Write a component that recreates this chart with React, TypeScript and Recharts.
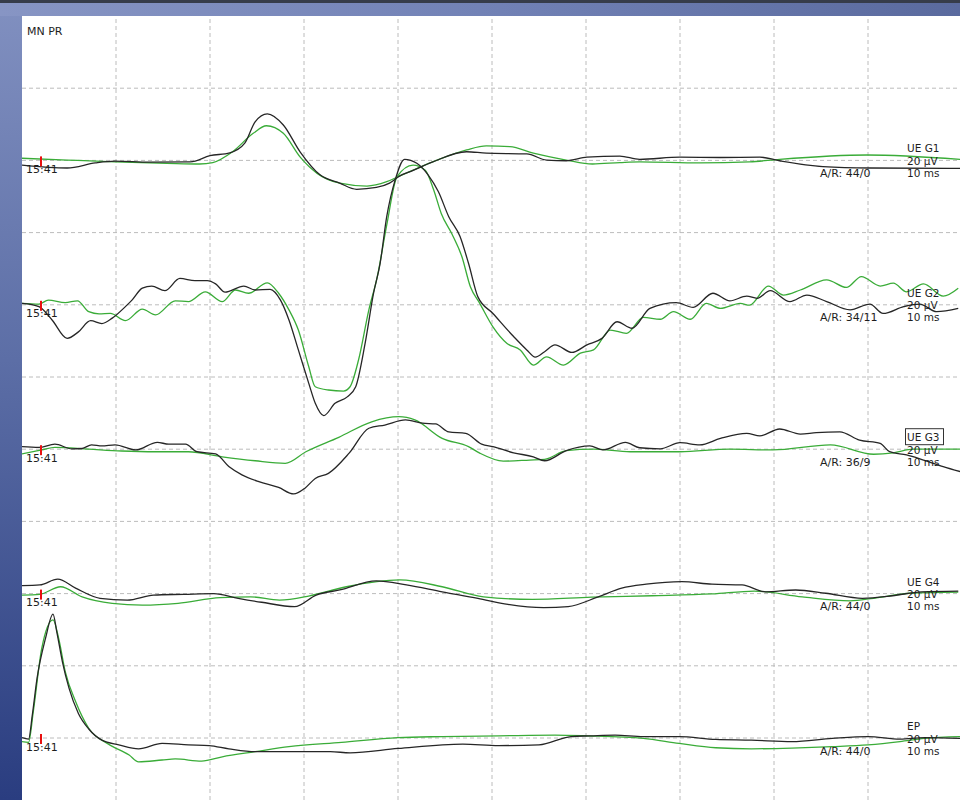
import { LineChart, Line, XAxis, YAxis, ReferenceLine } from 'recharts'

// sweep: 10 ms / division, 20 µV / division
const sweepMs = [0, 100]
const gridTimes = [10, 20, 30, 40, 50, 60, 70, 80, 90]
const gridLevels = [-20, -40, -60, -80, -100, -120, -140, -160, -180, -200]

const channelNames = ['UE G1', 'UE G2', 'UE G3', 'UE G4', 'EP']
const channelOffsets = [-40, -80, -120, -160, -200]
const rejectCounts = ['44/0', '34/11', '36/9', '44/0', '44/0']
const selectedChannel = 'UE G3'
const sweepTime = '15:41'
const gainLabel = '20 µV'
const timebaseLabel = '10 ms'

// [ms, µV] — upward deflection positive
const g1Black = [
  [0, -1.3], [4.8, -2.1], [7.8, -0.7], [9.9, -0.2], [13.6, -0.5], [17.9, -0.4], [20.0, 1.3],
  [22.1, 2.1], [23.7, 4.8], [24.8, 10.7], [26.1, 12.9], [27.8, 9.8], [29.6, 2.3], [31.7, -4.0],
  [33.8, -6.3], [35.6, -8.0], [37.7, -7.5], [39.1, -6.3], [40.2, -4.3], [41.3, -3.1], [43.7, -0.4],
  [47.3, 2.4], [49.4, 2.0], [53.7, 1.8], [55.8, 0.1], [57.9, -0.1], [60.1, 0.9], [63.6, 1.2],
  [65.7, 0.3], [70.0, 0.9], [74.3, 0.8], [78.5, 0.9], [80.6, -0.1], [85.2, -1.7], [90.2, -2.1],
  [99.8, -2.2],
]
const g1Green = [
  [0, 0.6], [4.8, 0.1], [9.9, -0.4], [15.4, -0.8], [18.9, -1.0], [20.3, -0.6], [22.4, 2.4],
  [24.6, 7.5], [26.0, 9.6], [27.8, 7.5], [29.6, 0.9], [31.4, -3.6], [33.8, -6.3], [36.7, -7.1],
  [38.8, -5.9], [40.2, -4.3], [43.7, -0.4], [47.3, 2.9], [49.4, 4.0], [51.9, 3.8], [54.4, 2.0],
  [57.9, 0.1], [60.7, -1.0], [63.6, -0.6], [65.7, -0.4], [72.1, -0.7], [77.4, -0.4], [80.6, 0.3],
  [89.9, 1.5], [99.8, 0.3],
]
const g2Black = [
  [0, 0.4], [1.8, -0.5], [3.2, -4.2], [4.8, -9.3], [6.0, -7.5], [7.3, -4.4], [8.5, -5.2],
  [9.6, -3.7], [11.0, -0.5], [11.7, 1.3], [12.8, 4.6], [13.8, 5.2], [15.2, 3.9], [16.8, 7.3],
  [18.4, 6.7], [19.7, 6.7], [20.6, 5.8], [21.6, 3.5], [23.6, 5.2], [24.8, 4.1], [26.4, 4.3],
  [27.5, 1.3], [28.4, -4.2], [29.4, -12.5], [30.5, -21.7], [31.2, -27.3], [32.1, -30.7],
  [33.3, -27.3], [34.6, -25.5], [35.5, -22.7], [36.5, -10.7], [37.4, 3.2], [38.1, 11.5],
  [38.8, 24.4], [39.7, 34.6], [40.7, 40.3], [42.0, 39.2], [43.2, 36.0], [44.3, 31.3],
  [45.4, 24.4], [46.6, 18.9], [47.5, 11.5], [48.5, 2.2], [50.1, -2.4], [52.3, -8.8],
  [53.7, -12.5], [54.6, -14.5], [55.6, -13.0], [56.7, -11.1], [58.5, -13.2], [60.1, -11.1],
  [61.7, -9.3], [63.3, -4.7], [64.9, -6.5], [66.8, -1.0], [69.6, 0.6], [71.4, -0.7], [73.5, 3.2],
  [75.3, 1.1], [77.1, 2.4], [78.2, 1.8], [79.6, 3.9], [81.7, 0.9], [83.5, 2.7], [85.6, 0.9],
  [88.1, -1.4], [90.2, 0.2], [91.6, -2.4], [93.8, -0.5], [95.5, 0.2], [97.3, -1.9], [99.6, -1.0],
]
const g2Green = [
  [0, 0.4], [1.8, 0.2], [2.8, 1.3], [4.6, 0.6], [5.9, 1.1], [7.1, -1.9], [8.2, -2.5],
  [9.4, -2.4], [11.0, -4.4], [12.8, -1.2], [14.2, -2.8], [16.3, 1.1], [17.7, 0.9], [19.5, 3.6],
  [21.3, 0.9], [22.7, 4.1], [24.1, 3.2], [26.1, 6.1], [27.3, 3.2], [28.4, -1.4], [29.4, -7.0],
  [30.5, -17.1], [31.2, -22.7], [32.6, -23.6], [34.2, -23.9], [34.9, -22.7], [35.8, -15.3],
  [36.9, -1.4], [37.8, 7.8], [38.8, 22.1], [39.9, 35.5], [41.6, 38.7], [42.9, 37.3],
  [43.8, 31.8], [44.6, 25.3], [45.7, 19.8], [46.8, 13.3], [47.7, 5.0], [48.7, 0.4],
  [50.1, -6.1], [51.6, -10.7], [53.0, -12.5], [54.4, -16.7], [55.8, -14.4], [57.6, -16.7],
  [59.4, -13.4], [60.8, -12.5], [62.6, -7.0], [64.3, -7.9], [66.1, -3.5], [67.9, -4.0],
  [69.3, -1.9], [71.1, -4.0], [72.8, 0.4], [74.3, -1.0], [76.4, 0.4], [77.4, -0.1], [79.4, 5.2],
  [81.0, 2.7], [82.8, 4.1], [85.6, 6.9], [87.7, 4.8], [89.3, 7.8], [91.3, 5.2], [92.7, 6.0],
  [94.1, 3.6], [95.9, 5.8], [98.0, 2.4], [99.6, 4.6],
]
const g3Black = [
  [0, 0.7], [1.8, 0.5], [3.5, 1.4], [5.3, 0.1], [6.4, 0.2], [7.4, 1.2], [8.5, 0.9], [9.9, 1.2],
  [12.1, -0.2], [14.4, 1.9], [15.6, 1.4], [17.4, 1.4], [18.6, -0.7], [20.6, -1.3], [22.0, -4.8],
  [23.4, -7.1], [25.2, -9.0], [27.3, -10.6], [28.9, -12.4], [30.1, -10.8], [31.2, -8.1],
  [32.6, -6.7], [34.8, -1.1], [36.9, 5.8], [38.6, 6.7], [40.8, 8.1], [42.6, 7.2], [44.0, 7.0],
  [45.4, 4.8], [47.2, 4.4], [48.9, 1.4], [50.1, 0.7], [52.3, -1.0], [54.4, -2.1], [55.6, -3.2],
  [57.9, -0.4], [60.4, 0.9], [61.8, -0.2], [64.2, 1.9], [65.7, 0.4], [67.9, 0.1], [70.0, 1.8],
  [72.1, 1.2], [74.3, 3.0], [77.1, 4.4], [78.5, 3.7], [80.6, 5.6], [82.8, 4.2], [84.5, 4.6],
  [87.0, 4.8], [89.1, 2.5], [91.3, 1.6], [92.3, -0.7], [94.1, -1.6], [95.9, -3.0], [98.0, -4.8],
  [99.8, -6.2],
]
const g3Green = [
  [0, -1.3], [2.1, -0.2], [3.5, 0.5], [7.1, 0.0], [10.6, -0.5], [14.2, -0.7], [17.7, -0.7],
  [21.3, -2.1], [24.8, -3.2], [28.0, -3.9], [30.2, -0.7], [33.7, 3.3], [37.2, 7.6], [40.1, 9.0],
  [41.8, 8.1], [44.7, 3.0], [47.5, 0.7], [48.7, -1.1], [51.2, -3.3], [54.0, -3.0], [55.6, -2.8],
  [57.9, -0.4], [60.8, 0.0], [64.7, -0.7], [70.0, -0.7], [75.3, 0.0], [79.9, -0.2], [86.0, 1.2],
  [90.6, -1.4], [92.7, -1.0], [94.8, 0.0], [99.8, 0.0],
]
const g4Black = [
  [0, 2.2], [1.9, 2.4], [3.8, 4.0], [5.7, 1.5], [8.3, -1.3], [11.2, -1.8], [14.0, -0.4],
  [17.2, -0.2], [20.4, 0.0], [23.0, -1.3], [25.5, -2.4], [29.0, -3.6], [31.3, -0.4], [33.8, 1.0],
  [37.7, 3.5], [40.9, 2.4], [44.7, 0.5], [48.5, -1.3], [51.7, -3.0], [55.5, -3.9], [58.1, -3.6],
  [61.3, -0.9], [63.8, 1.5], [66.4, 2.6], [70.2, 3.3], [73.4, 2.6], [76.6, 2.4], [79.1, 0.5],
  [82.3, 1.0], [85.5, 0.1], [89.4, -1.3], [92.6, -0.6], [95.7, 0.5], [99.6, 0.7],
]
const g4Green = [
  [0, -0.4], [1.9, -0.2], [4.1, 1.9], [6.4, -0.9], [9.6, -2.7], [12.8, -3.2], [16.6, -2.7],
  [21.1, -1.1], [24.3, -0.9], [27.4, -1.8], [30.6, -0.6], [34.5, 1.9], [40.2, 3.8], [44.7, 1.9],
  [49.1, -0.9], [54.3, -1.6], [60.6, -1.0], [67.0, -0.6], [73.4, -0.1], [77.9, 0.7],
  [83.0, -0.9], [88.1, -2.0], [90.6, -1.3], [94.5, 0.1], [99.6, 0.4],
]
const epBlack = [
  [0, 0.1], [0.7, -0.3], [1.1, 6.4], [1.6, 16.5], [2.5, 27.6], [3.3, 34.3], [3.7, 29.4],
  [4.3, 21.1], [5.0, 13.8], [6.0, 6.8], [7.1, 2.5], [8.5, -0.6], [10.3, -1.9], [12.4, -3.0],
  [14.9, -1.5], [17.7, -1.9], [19.9, -2.1], [22.0, -3.0], [24.8, -3.8], [28.4, -3.8],
  [32.8, -3.8], [34.9, -4.1], [40.0, -2.9], [46.9, -1.7], [50.7, -2.1], [55.0, -1.9],
  [58.4, 0.4], [60.5, 0.6], [63.1, 0.8], [66.1, 0.4], [69.9, 0.4], [73.8, -0.4], [77.6, -0.6],
  [81.9, -1.0], [86.2, -0.1], [90.0, 0.4], [93.4, -0.3], [96.0, 0.1], [99.8, -0.1],
]
const epGreen = [
  [0, -1.0], [0.7, -1.2], [1.2, 7.3], [2.1, 24.8], [3.3, 32.7], [3.9, 27.6], [4.6, 18.4],
  [5.7, 10.1], [7.1, 2.7], [9.2, -1.7], [11.4, -4.7], [12.4, -6.6], [14.9, -6.1], [16.3, -5.8],
  [19.1, -6.4], [21.3, -5.2], [24.8, -3.8], [28.4, -2.4], [34.0, -1.2], [40.0, 0.1], [44.7, 0.4],
  [50.7, 0.6], [56.7, 0.8], [60.1, 0.6], [66.1, -0.1], [69.9, -1.5], [73.8, -2.7], [77.6, -3.0],
  [81.9, -2.8], [86.2, -2.4], [90.0, -1.9], [93.4, -1.0], [96.0, -0.1], [99.8, 0.4],
]

const blackTraces = [g1Black, g2Black, g3Black, g4Black, epBlack]
const greenTraces = [g1Green, g2Green, g3Green, g4Green, epGreen]

const PANEL_LEFT = 22
const PANEL_TOP = 16
const PANEL_W = 940
const PANEL_H = 784
const UV_PER_PX = 20 / 72.2
const Y_MIN = -PANEL_H * UV_PER_PX

const FONT = '"DejaVu Sans", Verdana, sans-serif'
const BLACK = '#262626'
const GREEN = '#3aac38'
const GRID = '#bcbcbc'

function toPoints(trace: number[][], offset: number) {
  return trace.map(([t, v]) => ({ t, v: v + offset }))
}

function levelToPx(level: number) {
  return PANEL_TOP + -level / UV_PER_PX
}

function ChannelLabels() {
  return (
    <svg
      width={960}
      height={800}
      style={{ position: 'absolute', left: 0, top: 0, pointerEvents: 'none' }}
      fontFamily={FONT}
      fontSize={10.5}
      fill="#1e1e1e"
    >
      <text x={27} y={35} fontSize={11}>MN PR</text>
      {channelNames.map((name, i) => {
        const b = levelToPx(channelOffsets[i])
        return (
          <g key={name}>
            <rect x={40} y={b - 4} width={2} height={10} fill="#e81010" />
            <text x={26} y={b + 12.5} fontSize={11}>{sweepTime}</text>
            {name === selectedChannel && (
              <rect x={905.5} y={b - 20.5} width={38} height={16} fill="none" stroke="#333" strokeWidth={1} />
            )}
            <text x={907} y={b - 8}>{name}</text>
            <text x={907} y={b + 4.5}>{gainLabel}</text>
            <text x={907} y={b + 16.5}>{timebaseLabel}</text>
            <text x={820} y={b + 16.5} fontSize={11}>A/R: {rejectCounts[i]}</text>
          </g>
        )
      })}
    </svg>
  )
}

export default function App() {
  return (
    <div
      style={{
        position: 'fixed',
        left: 0,
        top: 0,
        width: 960,
        height: 800,
        overflow: 'hidden',
        background: '#ffffff',
      }}
    >
      <div
        style={{
          position: 'absolute',
          left: 0,
          top: 0,
          width: PANEL_LEFT,
          height: 800,
          background: 'linear-gradient(to bottom, #8190c0 0%, #5c6ea6 45%, #2a3d80 100%)',
        }}
      />
      <div
        style={{
          position: 'absolute',
          left: 0,
          top: 0,
          width: 960,
          height: PANEL_TOP,
          background: 'linear-gradient(to right, #8795c4 0%, #7282b6 50%, #5a6a9e 100%)',
          borderTop: '3px solid #363c4a',
          boxSizing: 'border-box',
        }}
      />
      <div style={{ position: 'absolute', left: PANEL_LEFT, top: PANEL_TOP }}>
        <LineChart width={PANEL_W} height={PANEL_H} margin={{ top: 0, right: 0, bottom: 0, left: 0 }}>
          <XAxis type="number" dataKey="t" domain={sweepMs} hide allowDataOverflow />
          <YAxis type="number" domain={[Y_MIN, 0]} hide allowDataOverflow />
          {gridTimes.map((t) => (
            <ReferenceLine key={`vx${t}`} x={t} stroke={GRID} strokeDasharray="4 3" />
          ))}
          {gridLevels.map((l) => (
            <ReferenceLine key={`hy${l}`} y={l} stroke={GRID} strokeDasharray="4 3" />
          ))}
          {greenTraces.map((trace, i) => (
            <Line
              key={`green-${channelNames[i]}`}
              data={toPoints(trace, channelOffsets[i])}
              dataKey="v"
              type="monotone"
              stroke={GREEN}
              strokeWidth={1.3}
              dot={false}
              activeDot={false}
              isAnimationActive={false}
            />
          ))}
          {blackTraces.map((trace, i) => (
            <Line
              key={`black-${channelNames[i]}`}
              data={toPoints(trace, channelOffsets[i])}
              dataKey="v"
              type="monotone"
              stroke={BLACK}
              strokeWidth={1.3}
              dot={false}
              activeDot={false}
              isAnimationActive={false}
            />
          ))}
        </LineChart>
      </div>
      <ChannelLabels />
    </div>
  )
}
